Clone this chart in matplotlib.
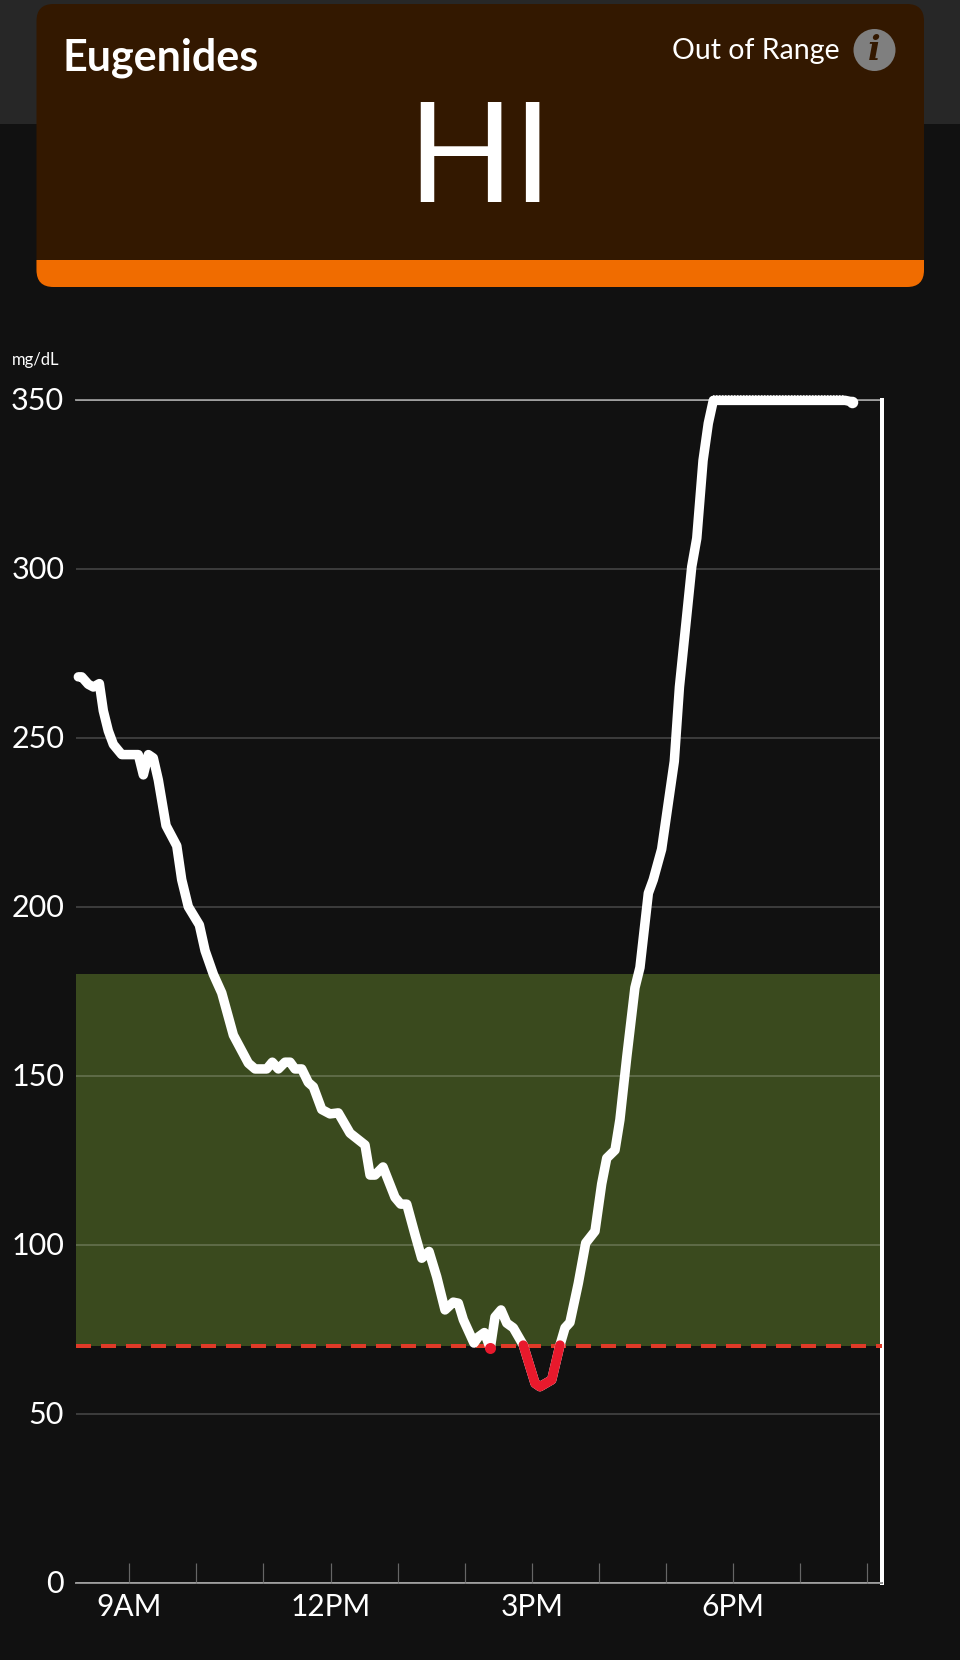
import numpy as np
import matplotlib
matplotlib.use("Agg")
import matplotlib.pyplot as plt
from matplotlib.patches import FancyBboxPatch, Rectangle, Circle
from matplotlib.transforms import ScaledTranslation

plt.rcParams['font.family'] = ['Lato', 'DejaVu Sans']

# minutes after 8AM
minutes = [14.5, 17.5, 23.4, 27.9, 33.3, 36.8, 41.3, 45.8, 53.3, 68.1, 72.6, 77.1, 81.5, 86,
           92.9, 102.5, 106.9, 112.8, 122.7, 127.8, 135.2, 142.7, 153.1, 166.5, 172.5, 182.9,
           187.9, 193.3, 199.3, 203.8, 208.2, 214.2, 220.1, 224.6, 232.1, 239.5, 246.9, 257.4,
           270.8, 275.3, 279.7, 286.9, 297.6, 302.7, 308.1, 315.5, 321.5, 328, 334.9, 342.3,
           349.7, 354.2, 358.7, 368.2, 372.1, 377.5, 382.8, 387, 392.4, 397.5, 403.4, 412.3,
           422.8, 427.2, 437.7, 445.1, 449.6, 454, 461.5, 468.1, 476.4, 482.4, 486.9, 494.3,
           498.7, 504.8, 512.1, 516.6, 524.1, 528.5, 536, 541.9, 547.3, 551.9, 562.9, 567.4,
           573, 577.7, 582.2, 700, 705.9]
glucose = [268, 268, 265.8, 265, 266, 258, 252, 248, 245, 245, 239, 245, 244, 237.5,
           224, 218, 208, 200, 194.6, 187, 180, 174.5, 162, 153.7, 152, 152,
           154, 152, 154, 154, 152, 152, 148, 146.7, 140, 138.7, 139, 133,
           129.5, 120.6, 120.6, 123, 114, 112, 112, 103, 96, 98, 90.5, 80.7,
           83, 82.7, 77.8, 70.9, 72.7, 74, 69.4, 78.6, 80.7, 76.8, 75.4, 70.3,
           59, 58, 60, 70.3, 75.4, 77, 88.6, 100.5, 104, 118, 125.6, 128,
           137, 155.5, 176, 182, 204, 208, 217, 230.6, 243, 265, 300.6, 309,
           332, 343, 349.8, 349.8, 349.4]

y_ticks = [0, 50, 100, 150, 200, 250, 300, 350]
x_ticks = [60, 120, 180, 240, 300, 360, 420, 480, 540, 600, 660, 720]
x_labels = ['9AM', '', '', '12PM', '', '', '3PM', '', '', '6PM', '', '']
target_low = 70
target_high = 180

BG = '#111111'
W, H = 960, 1660
px = 0.72  # one pixel in points at dpi 100
line_w = 9.5 * px

fig = plt.figure(figsize=(W / 100, H / 100), dpi=100, facecolor=BG)

# chart
ax = fig.add_axes([76 / W, 1 - 1582.7 / H, 806 / W, 1183 / H], facecolor=BG)
ax.set_xlim(12.4, 733)
ax.set_ylim(0, 350)

ax.axhspan(target_low, target_high, color='#3A4A1E', lw=0, zorder=1)
ax.set_yticks(y_ticks)
ax.set_xticks(x_ticks)
ax.set_xticklabels(x_labels)
ax.grid(axis='y', color='white', alpha=0.18, lw=2 * px, zorder=2)
ax.set_axisbelow(False)
ax.axhline(350, color='#8a8a8a', lw=2 * px, zorder=2, clip_on=False)
ax.tick_params(axis='y', length=0, pad=8.5, labelsize=22, labelcolor='white')
ax.tick_params(axis='x', direction='in', length=20 * px, width=1.2 * px, color='#666666',
               pad=7.5, labelsize=21.5, labelcolor='white')
for lab in ax.get_yticklabels():
    lab.set_transform(lab.get_transform() + ScaledTranslation(0, 1.5 / 100, fig.dpi_scale_trans))
for side in ['left', 'top']:
    ax.spines[side].set_visible(False)
ax.spines['bottom'].set_color('#8a8a8a')
ax.spines['bottom'].set_linewidth(2 * px)
ax.spines['right'].set_color('white')
ax.spines['right'].set_linewidth(4 * px)

ax.axhline(target_low, color='#E03A28', lw=4 * px, dashes=(15 / 4, 10 / 4), zorder=3)

x = np.array(minutes)
y = np.array(glucose)
ax.plot(x, y, color='white', lw=line_w, solid_capstyle='round', solid_joinstyle='round',
        zorder=4, clip_on=False)
ax.plot(x[-1], y[-1], 'o', color='white', ms=11.5 * px, mew=0, zorder=4, clip_on=False)

# the plateau has a beaded top edge in the reference
ax.plot(x[-3:-1], y[-3:-1] + 1.4, color='white', lw=1.5 * px, dashes=(1, 1), zorder=4, clip_on=False)

# readings below range go red, an isolated one shows as a dot
low = y <= 70.3
ax.plot(x, np.ma.masked_where(~low, y), color='#E8192C', lw=line_w, solid_capstyle='round',
        solid_joinstyle='round', zorder=5)
alone = low & ~np.r_[False, low[:-1]] & ~np.r_[low[1:], False]
ax.plot(x[alone], y[alone], 'o', color='#E8192C', ms=11 * px, mew=0, zorder=5)

# header card, in pixel coordinates
top = fig.add_axes([0, 0, 1, 1], facecolor='none')
top.set_xlim(0, W)
top.set_ylim(H, 0)
top.axis('off')
top.add_patch(Rectangle((0, 0), W, 124, color='#272727', lw=0))
card = FancyBboxPatch((36.5, 4), 887.5, 283, boxstyle='round,pad=0,rounding_size=17',
                      fc='#331800', ec='none')
top.add_patch(card)
strip = Rectangle((36, 260), 889, 28, color='#F06C00', lw=0)
top.add_patch(strip)
strip.set_clip_path(card)

top.text(62.5, 71, 'Eugenides', color='white', fontsize=31, fontweight='bold', va='baseline')
top.text(480, 202, 'HI', color='white', fontsize=100, ha='center', va='baseline')
top.text(840, 59, 'Out of Range', color='white', fontsize=20.5, ha='right', va='baseline')
top.add_patch(Circle((874.5, 50), 21, color='#7F7F7F', lw=0))
top.text(874.5, 50.5, 'i', color='#331800', fontsize=24, family='DejaVu Serif', fontweight='bold',
         fontstyle='italic', ha='center', va='center')
top.text(11.5, 365, 'mg/dL', color='white', fontsize=12, va='baseline')

fig.savefig('out.png', dpi=100, facecolor=BG)
